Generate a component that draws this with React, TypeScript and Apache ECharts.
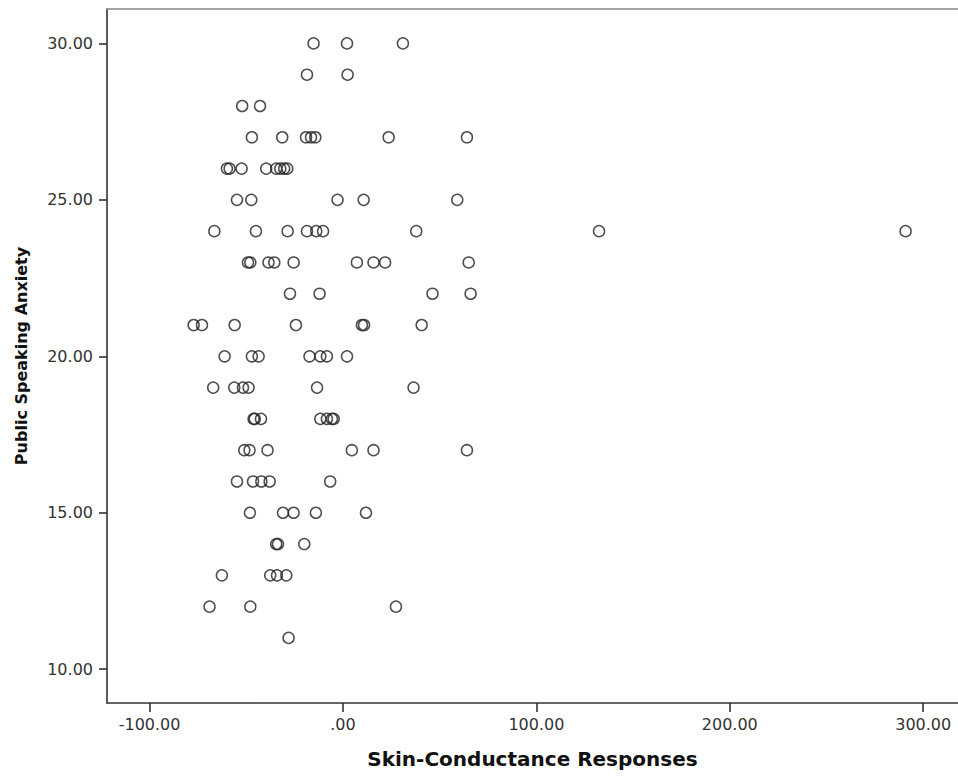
import React, { useEffect, useRef } from "react";
import * as echarts from "echarts";

// Public Speaking Anxiety (y) levels and their Skin-Conductance Response values (x)
const anxietyLevels: number[] = [30, 29, 28, 27, 26, 25, 24, 23, 22, 21, 20, 19, 18, 17, 16, 15, 14, 13, 12, 11];
const scrByLevel: number[][] = [
  [-15.2, 2.1, 31.0],
  [-18.6, 2.4],
  [-52.1, -42.9],
  [-47.1, -31.4, -19.1, -16.5, -14.3, 23.6, 64.1],
  [-60.0, -58.6, -52.4, -39.7, -34.5, -32.4, -30.4, -28.8],
  [-54.8, -47.4, -2.8, 10.7, 59.1],
  [-66.5, -45.0, -28.6, -18.6, -13.8, -10.3, 37.9, 132.4, 290.9],
  [-49.1, -47.9, -38.5, -35.5, -25.5, 7.2, 15.8, 21.8, 65.0],
  [-27.4, -12.1, 46.3, 66.0],
  [-77.2, -72.9, -56.0, -24.3, 9.8, 10.9, 40.7],
  [-61.2, -47.1, -43.6, -17.3, -11.7, -8.3, 2.1],
  [-67.1, -56.2, -51.7, -48.8, -13.4, 36.5],
  [-46.2, -45.6, -42.4, -11.7, -8.3, -5.7, -4.8],
  [-51.0, -48.3, -39.0, 4.6, 15.8, 64.1],
  [-54.8, -46.5, -42.2, -37.9, -6.6],
  [-48.1, -31.0, -25.5, -14.0, 11.9],
  [-34.5, -33.6, -20.0],
  [-62.6, -37.6, -34.1, -29.3],
  [-69.0, -47.9, 27.4],
  [-28.1],
];

const xTicks: number[] = [-100, 0, 100, 200, 300];
const yTicks: number[] = [10, 15, 20, 25, 30];
const xTitle = "Skin-Conductance Responses";
const yTitle = "Public Speaking Anxiety";

const fmt = (v: number) => (v === 0 ? ".00" : v.toFixed(2));

export default function App() {
  const ref = useRef<HTMLDivElement>(null);

  useEffect(() => {
    if (!ref.current) return;
    const chart = echarts.init(ref.current, undefined, { renderer: "svg" });

    const points: number[][] = [];
    anxietyLevels.forEach((lvl, i) => {
      scrByLevel[i].forEach((x) => points.push([x, lvl]));
    });

    const labelStyle = {
      fontFamily: "DejaVu Sans",
      fontSize: 16,
      color: "#333",
    };

    chart.setOption({
      animation: false,
      backgroundColor: "#fff",
      grid: { left: 107, top: 9, right: 0, bottom: 73, containLabel: false },
      xAxis: [
        {
          type: "value",
          position: "bottom",
          min: -122,
          max: 318,
          splitLine: { show: false },
          axisLine: { show: true, onZero: false, lineStyle: { color: "#333", width: 1.6 } },
          axisTick: { show: true, length: 9, customValues: xTicks, lineStyle: { color: "#333", width: 1.6 } },
          axisLabel: { ...labelStyle, margin: 13, customValues: xTicks, formatter: fmt },
          name: xTitle,
          nameLocation: "middle",
          nameGap: 46,
          nameTextStyle: { fontFamily: "DejaVu Sans", fontWeight: "bold", fontSize: 20, color: "#111" },
        },
        {
          type: "value",
          position: "top",
          min: -122,
          max: 318,
          splitLine: { show: false },
          axisLine: { show: true, onZero: false, lineStyle: { color: "#888", width: 1.6 } },
          axisTick: { show: false },
          axisLabel: { show: false },
        },
      ],
      yAxis: {
        type: "value",
        min: 8.92,
        max: 31.1,
        splitLine: { show: false },
        axisLine: { show: true, onZero: false, lineStyle: { color: "#333", width: 1.6 } },
        axisTick: { show: true, length: 8, customValues: yTicks, lineStyle: { color: "#333", width: 1.6 } },
        axisLabel: { ...labelStyle, margin: 14, customValues: yTicks, formatter: fmt },
        name: yTitle,
        nameLocation: "middle",
        nameGap: 78,
        nameTextStyle: { fontFamily: "DejaVu Sans", fontWeight: "bold", fontSize: 16, color: "#111" },
      },
      series: [
        {
          type: "scatter",
          xAxisIndex: 0,
          data: points,
          symbol: "circle",
          symbolSize: 11,
          itemStyle: { color: "rgba(0,0,0,0)", borderColor: "#222", borderWidth: 1.5 },
          emphasis: { disabled: true },
        },
      ],
    });

    return () => chart.dispose();
  }, []);

  return (
    <div
      ref={ref}
      style={{ position: "absolute", left: 0, top: 0, width: 958, height: 776 }}
    />
  );
}
